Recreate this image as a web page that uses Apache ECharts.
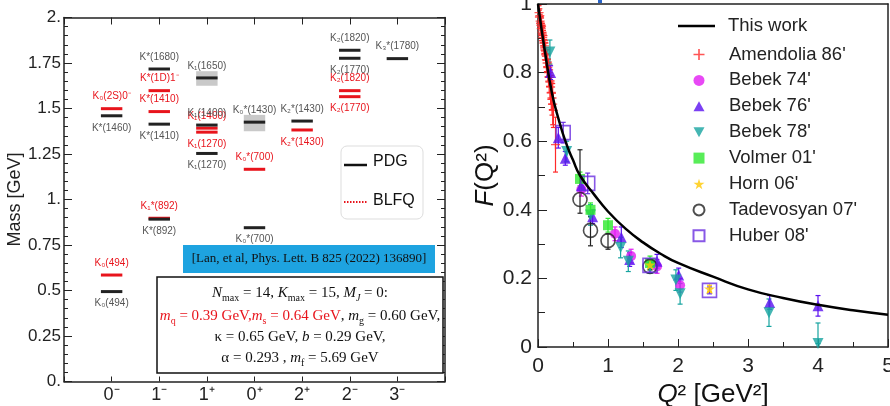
<!DOCTYPE html>
<html><head><meta charset="utf-8">
<style>html,body{margin:0;padding:0;background:#fff}#c{width:890px;height:406px}</style>
<script src="https://cdn.jsdelivr.net/npm/echarts@6/dist/echarts.min.js"></script>
</head><body><div id="c"></div>
<script>
// ===== Left panel: kaon spectrum =====
var jpcLabels = ['0⁻','1⁻','1⁺','0⁺','2⁺','2⁻','3⁻'];
var pdgCat  = [0,0,1,1,1,2,2,2,3,3,4,5,5,6];
var pdgMass = [0.494,1.460,0.892,1.414,1.717,1.253,1.409,1.668,0.845,1.425,1.431,1.776,1.820,1.774];
var pdgName = ['K₀(494)','K*(1460)','K*(892)','K*(1410)','K*(1680)','K₁(1270)','K₁(1400)','K₁(1650)','K₀*(700)','K₀*(1430)','K₂*(1430)','K₂(1770)','K₂(1820)','K₃*(1780)'];
var pdgSide = [-1,-1,-1,-1,1,-1,1,1,-1,1,1,-1,1,1];
var bandCat = [2,3];
var bandLo  = [1.625,1.375];
var bandHi  = [1.705,1.465];
var blfqCat  = [0,0,1,1,1,2,2,3,4,5,5];
var blfqMass = [0.585,1.499,0.897,1.483,1.598,1.392,1.370,1.166,1.382,1.598,1.565];
var blfqName = ['K₀(494)','K₀(2S)0⁻','K₁*(892)','K*(1410)','K*(1D)1⁻','K₁(1400)','K₁(1270)','K₀*(700)','K₂*(1430)','K₂(1820)','K₂(1770)'];
var blfqSide = [1,1,1,1,1,1,-1,1,-1,1,-1];

// ===== Right panel: pion form factor =====
var curveQ2 = [0,0.1,0.2,0.3,0.4,0.5,0.6,0.8,1.0,1.25,1.5,1.75,2.0,2.5,3.0,3.5,4.0,4.5,5.0];
var curveF  = [1.0,0.86,0.74,0.66,0.595,0.545,0.50,0.445,0.395,0.345,0.305,0.272,0.245,0.205,0.168,0.143,0.123,0.107,0.094];
// [Q2, F, errDown, errUp]
var amendolia = [[0.015,0.975,0.02,0.02],[0.02,0.962,0.02,0.02],[0.026,0.966,0.02,0.02],[0.031,0.95,0.02,0.02],[0.036,0.944,0.02,0.02],[0.041,0.938,0.025,0.025],[0.046,0.928,0.02,0.02],[0.051,0.934,0.025,0.025],[0.056,0.918,0.025,0.025],[0.062,0.912,0.025,0.025],[0.067,0.902,0.03,0.03],[0.072,0.908,0.03,0.03],[0.078,0.893,0.03,0.03],[0.084,0.886,0.03,0.03],[0.092,0.878,0.03,0.03],[0.1,0.866,0.03,0.03],[0.11,0.852,0.035,0.035],[0.12,0.838,0.035,0.035],[0.13,0.828,0.04,0.04],[0.14,0.815,0.04,0.04],[0.15,0.80,0.04,0.04],[0.16,0.786,0.045,0.045],[0.17,0.772,0.05,0.05],[0.18,0.758,0.05,0.05],[0.19,0.742,0.05,0.05],[0.2,0.726,0.05,0.05],[0.21,0.708,0.06,0.06],[0.22,0.69,0.05,0.05],[0.25,0.59,0.08,0.08]];
var bebek74 = [[0.62,0.46,0.02,0.02],[1.1,0.33,0.02,0.02],[1.33,0.265,0.02,0.02],[1.7,0.235,0.02,0.02],[2.03,0.18,0.02,0.02]];
var bebek76 = [[0.18,0.80,0.02,0.02],[0.29,0.61,0.03,0.03],[0.39,0.55,0.02,0.02],[0.62,0.47,0.02,0.02],[0.78,0.38,0.02,0.02],[1.19,0.32,0.03,0.03],[1.31,0.255,0.02,0.02],[1.7,0.25,0.02,0.02],[2.01,0.21,0.02,0.02],[3.31,0.13,0.02,0.02],[4.0,0.12,0.03,0.03]];
var bebek78 = [[0.17,0.86,0.035,0.035],[0.41,0.57,0.03,0.03],[0.75,0.385,0.03,0.03],[1.18,0.29,0.03,0.03],[1.29,0.25,0.03,0.03],[1.6,0.235,0.02,0.02],[1.97,0.195,0.03,0.03],[2.03,0.155,0.03,0.03],[3.3,0.10,0.04,0.04],[4.0,0.01,0.0,0.06]];
var volmer = [[0.6,0.49,0.02,0.02],[0.75,0.40,0.02,0.02],[1.0,0.355,0.02,0.02],[1.6,0.245,0.02,0.02]];
var horn = [[1.6,0.24,0.01,0.01],[2.45,0.17,0.01,0.01]];
var tadevosyan = [[0.6,0.43,0.04,0.145],[0.75,0.34,0.045,0.04],[1.0,0.31,0.025,0.02],[1.6,0.235,0.01,0.01]];
var huber = [[0.36,0.625,0.03,0.03],[0.71,0.477,0.03,0.03],[1.6,0.238,0.02,0.02],[2.45,0.165,0.01,0.01]];

var FONT = '"Liberation Sans", Arial, sans-serif';
var SERIF = '"Liberation Serif", "Times New Roman", serif';

function levelRender(names, sides, color, textColor){
  return function(params, api){
    var c = api.value(0), m = api.value(1), i = params.dataIndex;
    var p0 = api.coord([c-0.225, m]), p1 = api.coord([c+0.225, m]);
    return {type:'group', children:[
      {type:'line', shape:{x1:p0[0],y1:p0[1],x2:p1[0],y2:p1[1]}, style:{stroke:color, lineWidth:3}},
      {type:'text', x:(p0[0]+p1[0])/2, y:p0[1] + (sides[i]>0 ? -12 : 12),
       style:{text:names[i], fill:textColor, fontSize:10, fontFamily:FONT, align:'center', verticalAlign:'middle'}}
    ]};
  };
}
function bandRender(params, api){
  var c = api.value(0);
  var a = api.coord([c-0.225, api.value(2)]), b = api.coord([c+0.225, api.value(1)]);
  return {type:'rect', shape:{x:a[0], y:a[1], width:b[0]-a[0], height:b[1]-a[1]}, style:{fill:'#c9c9c9'}};
}
function errRender(color){
  return function(params, api){
    var x = api.value(0), y = api.value(1);
    var pl = api.coord([x, Math.max(0, y-api.value(2))]), ph = api.coord([x, y+api.value(3)]);
    var st = {stroke:color, lineWidth:1.2};
    return {type:'group', children:[
      {type:'line', shape:{x1:pl[0],y1:pl[1],x2:ph[0],y2:ph[1]}, style:st},
      {type:'line', shape:{x1:pl[0]-2.5,y1:pl[1],x2:pl[0]+2.5,y2:pl[1]}, style:st},
      {type:'line', shape:{x1:ph[0]-2.5,y1:ph[1],x2:ph[0]+2.5,y2:ph[1]}, style:st}
    ]};
  };
}

var datasets = [
  {name:"Amendolia 86'", data:amendolia, color:'#ff2a2a', symbol:'path://M4,0h1.4v4h4v1.4h-4v4h-1.4v-4h-4v-1.4h4z', size:9},
  {name:"Bebek 74'", data:bebek74, color:'#e21cf2', symbol:'circle', size:10},
  {name:"Bebek 76'", data:bebek76, color:'#5a10f0', symbol:'path://M5,0L10,9L0,9Z', size:11},
  {name:"Bebek 78'", data:bebek78, color:'#16a4a0', symbol:'path://M0,0L10,0L5,9Z', size:11},
  {name:"Volmer 01'", data:volmer, color:'#2ee82e', symbol:'rect', size:10},
  {name:"Horn 06'", data:horn, color:'#ffc800', symbol:'path://M50,0L61,35L98,35L68,57L79,91L50,70L21,91L32,57L2,35L39,35Z', size:11},
  {name:"Tadevosyan 07'", data:tadevosyan, color:'#222', symbol:'circle', size:14, open:true},
  {name:"Huber 08'", data:huber, color:'#6a2ee0', symbol:'rect', size:14, open:true}
];

var series = [];
series.push({type:'custom', name:'bands', xAxisIndex:0, yAxisIndex:0, renderItem:bandRender,
  data: bandCat.map(function(c,i){return [c, bandLo[i], bandHi[i]];}), z:2});
series.push({type:'custom', name:'BLFQ', xAxisIndex:0, yAxisIndex:0, renderItem:levelRender(blfqName, blfqSide, '#e8141c', '#e8141c'),
  data: blfqCat.map(function(c,i){return [c, blfqMass[i]];}), z:3});
series.push({type:'custom', name:'PDG', xAxisIndex:0, yAxisIndex:0, renderItem:levelRender(pdgName, pdgSide, '#222', '#555'),
  data: pdgCat.map(function(c,i){return [c, pdgMass[i]];}), z:4});

datasets.forEach(function(d){
  series.push({type:'custom', name:d.name+' err', xAxisIndex:2, yAxisIndex:2, renderItem:errRender(d.color), data:d.data, z:3, clip:true});
  series.push({type:'scatter', name:d.name, xAxisIndex:2, yAxisIndex:2, symbol:d.symbol, symbolSize:d.size,
    data:d.data.map(function(p){return [p[0],p[1]];}),
    itemStyle: d.open ? {color:'rgba(255,255,255,0)', borderColor:d.color, borderWidth:1.6} : {color:d.color},
    z:4});
});
series.push({type:'line', name:'This work', xAxisIndex:2, yAxisIndex:2, smooth:true, symbol:'none',
  data: curveQ2.map(function(q,i){return [q, curveF[i]];}), lineStyle:{color:'#000', width:2.5}, itemStyle:{color:'#000'}, z:10});

var axLine = {onZero:false, lineStyle:{color:'#222', width:1.5}};
var option = {
  animation:false,
  backgroundColor:'#fff',
  grid:[{left:64, top:17.5, width:381, height:364, containLabel:false, outerBoundsMode:'none'},
        {left:538, top:4, width:350, height:343, containLabel:false, outerBoundsMode:'none'}],
  xAxis:[
    {type:'value', gridIndex:0, min:-1, max:7, interval:1, position:'bottom', axisLine:axLine,
     axisTick:{inside:true, length:5, lineStyle:{color:'#222'}}, splitLine:{show:false},
     axisLabel:{margin:5, fontSize:18, fontFamily:FONT, color:'#222',
       formatter:function(v){return (v>=0 && v<=6) ? jpcLabels[Math.round(v)] : '';}}},
    {type:'value', gridIndex:0, min:-1, max:7, interval:1, position:'top', axisLine:axLine,
     axisTick:{inside:true, length:7, lineStyle:{color:'#222'}}, axisLabel:{show:false}, splitLine:{show:false}},
    {type:'value', gridIndex:1, min:0, max:5, interval:1, position:'bottom', axisLine:axLine,
     axisTick:{inside:true, length:8, lineStyle:{color:'#222'}}, minorTick:{show:true, splitNumber:2, length:5, lineStyle:{color:'#222'}},
     splitLine:{show:false}, axisLabel:{margin:9, fontSize:21, fontFamily:FONT, color:'#222'},
     name:'{i|Q}{n|² [GeV²]}', nameLocation:'middle', nameGap:27,
     nameTextStyle:{fontSize:26, fontFamily:FONT, color:'#111', rich:{i:{fontSize:26, fontStyle:'italic', fontFamily:FONT, color:'#111'}, n:{fontSize:26, fontFamily:FONT, color:'#111'}}}},
    {type:'value', gridIndex:1, min:0, max:5, position:'top', axisLine:axLine, axisTick:{show:false}, axisLabel:{show:false}, splitLine:{show:false}}
  ],
  yAxis:[
    {type:'value', gridIndex:0, min:0, max:2, interval:0.25, position:'left', axisLine:axLine,
     axisTick:{inside:true, length:8, lineStyle:{color:'#222'}}, minorTick:{show:true, splitNumber:5, length:4, lineStyle:{color:'#222'}},
     splitLine:{show:false}, axisLabel:{margin:3, fontSize:17, fontFamily:FONT, color:'#222',
       formatter:function(v){return Math.abs(v-Math.round(v))<1e-9 ? Math.round(v)+'.' : String(+v.toFixed(2));}},
     name:'Mass [GeV]', nameLocation:'middle', nameGap:32, nameRotate:90,
     nameTextStyle:{fontSize:18, fontFamily:FONT, color:'#222'}},
    {type:'value', gridIndex:0, min:0, max:2, interval:0.25, position:'right', axisLine:axLine,
     axisTick:{inside:true, length:8, lineStyle:{color:'#222'}}, minorTick:{show:true, splitNumber:5, length:4, lineStyle:{color:'#222'}},
     splitLine:{show:false}, axisLabel:{show:false}},
    {type:'value', gridIndex:1, min:0, max:1, interval:0.2, position:'left', axisLine:axLine,
     axisTick:{inside:true, length:9, lineStyle:{color:'#222'}}, minorTick:{show:true, splitNumber:2, length:7, lineStyle:{color:'#222'}},
     splitLine:{show:false}, axisLabel:{margin:6, fontSize:21, fontFamily:FONT, color:'#222',
       formatter:function(v){return (v===0||v===1) ? String(v) : v.toFixed(1);}},
     name:'{i|F}{n|(Q²)}', nameLocation:'middle', nameGap:36, nameRotate:90,
     nameTextStyle:{fontSize:26, fontFamily:FONT, color:'#111', rich:{i:{fontSize:26, fontStyle:'italic', fontFamily:FONT, color:'#111'}, n:{fontSize:26, fontFamily:FONT, color:'#111'}}}},
    {type:'value', gridIndex:1, min:0, max:1, position:'right', axisLine:axLine, axisTick:{show:false}, axisLabel:{show:false}, splitLine:{show:false}}
  ],
  legend:[
    {orient:'vertical', left:678, top:16.5, padding:0, itemWidth:37, itemHeight:2.5,
     textStyle:{fontSize:18.5, fontFamily:FONT, color:'#222', lineHeight:18, padding:[0,0,0,8]},
     data:[{name:'This work', icon:'rect'}]},
    {orient:'vertical', left:692.5, top:45, padding:0, itemWidth:11, itemHeight:11, itemGap:6.9,
     textStyle:{fontSize:18.5, fontFamily:FONT, color:'#222', lineHeight:18, padding:[0,0,0,19.5]},
     data:["Amendolia 86'","Bebek 74'","Bebek 76'","Bebek 78'","Volmer 01'","Horn 06'","Tadevosyan 07'","Huber 08'"]}
  ],
  series:series,
  graphic:[
    {type:'rect', z:50, shape:{x:341, y:146, width:82, height:73, r:6}, style:{fill:'#fff', stroke:'#ddd', lineWidth:1}},
    {type:'line', z:51, shape:{x1:344, y1:165, x2:367, y2:165}, style:{stroke:'#111', lineWidth:2.5}},
    {type:'line', z:51, shape:{x1:344, y1:202, x2:367, y2:202}, style:{stroke:'#e8141c', lineWidth:2, lineDash:[1.5,1.5]}},
    {type:'text', z:51, x:373, y:162, style:{text:'PDG', fontSize:16, fontFamily:FONT, fill:'#111', verticalAlign:'middle'}},
    {type:'text', z:51, x:373, y:201, style:{text:'BLFQ', fontSize:16, fontFamily:FONT, fill:'#111', verticalAlign:'middle'}},
    {type:'rect', z:50, shape:{x:183, y:245, width:252, height:28}, style:{fill:'#1ea3e0'}},
    {type:'text', z:51, x:309, y:259, style:{text:'[Lan, et al, Phys. Lett. B 825 (2022) 136890]', fontSize:13, fontFamily:SERIF, fill:'#111', align:'center', verticalAlign:'middle'}},
    {type:'rect', z:50, shape:{x:157, y:277, width:286, height:96}, style:{fill:'#fff', stroke:'#111', lineWidth:1.5}},
    {type:'text', z:51, x:300, y:293, style:{align:'center', verticalAlign:'middle',
      text:'{i|N}{s|max}{n| = 14, }{i|K}{s|max}{n| = 15, }{i|M}{si|J}{n| = 0:}'}},
    {type:'text', z:51, x:300, y:316, style:{align:'center', verticalAlign:'middle',
      text:'{ri|m}{rs|q}{rn| = 0.39 GeV,}{ri|m}{rs|s}{rn| = 0.64 GeV}{n|, }{i|m}{s|g}{n| = 0.60 GeV,}'}},
    {type:'text', z:51, x:300, y:337, style:{align:'center', verticalAlign:'middle',
      text:'{n|κ = 0.65 GeV, }{i|b}{n| = 0.29 GeV,}'}},
    {type:'text', z:51, x:300, y:358, style:{align:'center', verticalAlign:'middle',
      text:'{n|α = 0.293 , }{i|m}{s|f}{n| = 5.69 GeV}'}},
    {type:'rect', z:50, shape:{x:598, y:0, width:4, height:3}, style:{fill:'#2a64c8'}}
  ]
};
var rich = {
  n:{fontSize:15, fontFamily:SERIF, fill:'#111', lineHeight:20},
  i:{fontSize:15, fontFamily:SERIF, fontStyle:'italic', fill:'#111', lineHeight:20},
  s:{fontSize:10, fontFamily:SERIF, fill:'#111', lineHeight:11, verticalAlign:'bottom'},
  si:{fontSize:10, fontFamily:SERIF, fontStyle:'italic', fill:'#111', lineHeight:11, verticalAlign:'bottom'},
  rn:{fontSize:15, fontFamily:SERIF, fill:'#e8141c', lineHeight:20},
  ri:{fontSize:15, fontFamily:SERIF, fontStyle:'italic', fill:'#e8141c', lineHeight:20},
  rs:{fontSize:10, fontFamily:SERIF, fill:'#e8141c', lineHeight:11, verticalAlign:'bottom'}
};
option.graphic.forEach(function(g){ if(g.type==='text' && g.style.text.indexOf('{')===0){ g.style.rich = rich; } });
var chart = echarts.init(document.getElementById('c'), null, {renderer:'canvas'});
chart.setOption(option);
</script>
</body></html>
